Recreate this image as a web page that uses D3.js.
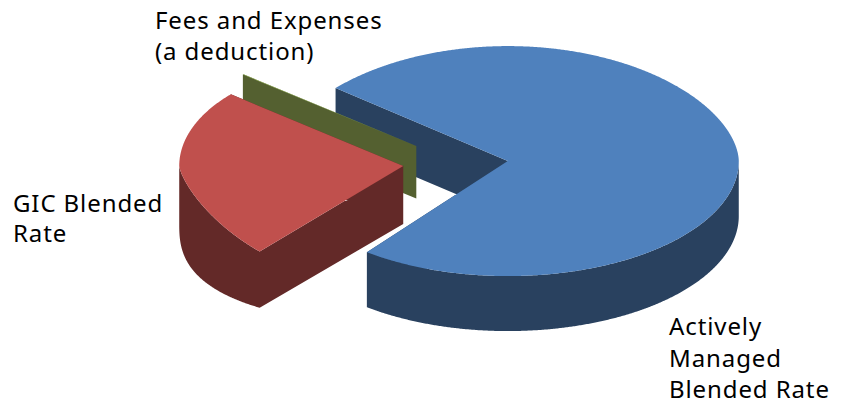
<!DOCTYPE html>
<html>
<head>
<meta charset="utf-8">
<script src="https://cdn.jsdelivr.net/npm/d3@7/dist/d3.min.js"></script>
<style>
  html, body { margin: 0; padding: 0; background: #fff; }
  svg { display: block; }
  text { font-family: "Noto Sans", sans-serif; font-size: 24px; letter-spacing: 0.9px; fill: #000; }
</style>
</head>
<body>
<svg id="chart" width="848" height="405"></svg>
<script>
// Return components, share of the total (percent)
const categories = ["Actively Managed Blended Rate", "GIC Blended Rate", "Fees and Expenses (a deduction)"];
const shares = [73.83, 26.12, 0.05];
const topColors = ["#4f81bd", "#c0504d", "#9bbb59"];
const wallColors = ["#29415f", "#632928", "#546030"];
const labelLines = [
  ["Actively", "Managed", "Blended Rate"],
  ["GIC Blended", "Rate"],
  ["Fees and Expenses", "(a deduction)"]
];

// Projection of the tilted, exploded pie
const center = { x: 455.5, y: 163.5 };
const explode = 52.5;
const tilt = 0.5;
const firstAngle = -48.2 * Math.PI / 180;

// Perspective makes each rim a slightly squared ellipse. For every slice:
// rx, ry behind and in front of the apex, and the exponents applied to the
// unit sine and cosine on either side of the horizontal.
const topRims = [
  { rx: 231, ryBack: 115, ryFront: 115, ex: 1, eyBack: 1.12, eyFront: 1 },
  { rx: 224, ryBack: 108, ryFront: 120, ex: 0.9, eyBack: 1, eyFront: 1.45 },
  { rx: 232, ryBack: 113, ryFront: 113, ex: 1, eyBack: 1.12, eyFront: 1 }
];
const baseRims = [
  { rx: 231, ryBack: 115, ryFront: 115, ex: 1, eyBack: 1.12, eyFront: 1 },
  { rx: 224, ryBack: 108, ryFront: 100, ex: 0.9, eyBack: 1, eyFront: 0.76 },
  { rx: 232, ryBack: 113, ryFront: 113, ex: 1, eyBack: 1.12, eyFront: 1 }
];
const depth = [55, 58, 52.5];

const svg = d3.select("#chart");

const slices = d3.pie()
  .sort(null)
  .value(d => d)
  .startAngle(firstAngle)
  .endAngle(firstAngle + 2 * Math.PI)(shares);

const outline = d3.line();

// Point on a rim for pie angle a, relative to the slice apex
function rimPoint(a, rim) {
  const s = Math.sin(a);
  const c = Math.cos(a);
  const back = c > 0;
  const dx = Math.sign(s) * rim.rx * Math.pow(Math.abs(s), rim.ex);
  const dy = back
    ? -rim.ryBack * Math.pow(Math.abs(c), rim.eyBack)
    : rim.ryFront * Math.pow(Math.abs(c), rim.eyFront);
  return [dx, dy];
}

// Back-to-front: blue body, then the fee wall, then the red wedge in front
const order = [0, 2, 1];

order.forEach(i => {
  const s = slices[i];
  const mid = (s.startAngle + s.endAngle) / 2;
  const apexX = center.x + explode * Math.sin(mid);
  const apexY = center.y - explode * Math.cos(mid) * tilt;

  const x = d3.scaleLinear().domain([0, 1]).range([apexX, apexX + 1]);
  const y = d3.scaleLinear().domain([0, 1]).range([apexY, apexY + 1]);
  const place = (p, drop) => [x(p[0]), y(p[1]) + drop];

  const steps = Math.max(2, Math.ceil((s.endAngle - s.startAngle) * 180));
  const angles = d3.range(steps + 1).map(k => s.startAngle + (s.endAngle - s.startAngle) * k / steps);
  const topPoint = a => place(rimPoint(a, topRims[i]), 0);
  const basePoint = a => place(rimPoint(a, baseRims[i]), depth[i]);

  const first = angles[0];
  const last = angles[angles.length - 1];
  const apex = place([0, 0], 0);
  const apexBase = place([0, 0], depth[i]);

  const g = svg.append("g").attr("class", "slice");

  // Side walls: both cut faces and the part of the outer band facing the viewer
  const cutStart = [apex, topPoint(first), basePoint(first), apexBase];
  const cutEnd = [apex, topPoint(last), basePoint(last), apexBase];
  const front = angles.filter(a => Math.cos(a) <= 0);
  const band = front.map(topPoint).concat(front.slice().reverse().map(basePoint));

  const walls = [cutEnd, cutStart];
  if (front.length > 1) walls.push(band);
  g.append("path")
    .attr("d", walls.map(poly => outline(poly) + "Z").join(""))
    .attr("fill", wallColors[i]);

  // Top face
  g.append("path")
    .attr("d", outline([apex].concat(angles.map(topPoint))) + "Z")
    .attr("fill", topColors[i]);
});

// Category labels
const labelAnchors = [
  { x: 669, y: 335, lead: 31.5 },
  { x: 13, y: 212, lead: 30 },
  { x: 155, y: 29, lead: 31 }
];

labelLines.forEach((lines, i) => {
  const a = labelAnchors[i];
  const t = svg.append("text").attr("x", a.x).attr("y", a.y);
  lines.forEach((line, k) => {
    t.append("tspan").attr("x", a.x).attr("y", a.y + k * a.lead).text(line);
  });
});
</script>
</body>
</html>
